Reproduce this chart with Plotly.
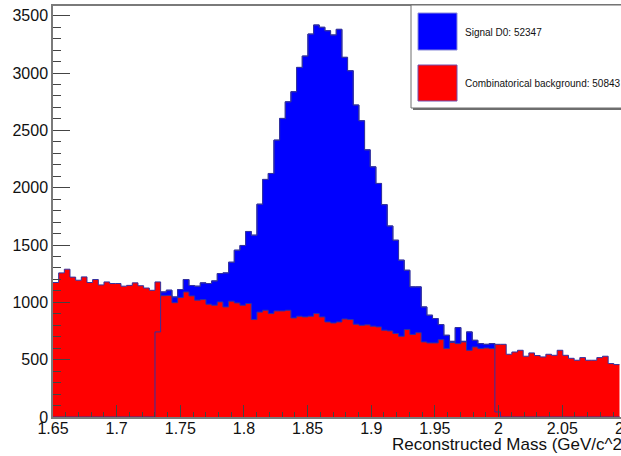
import plotly.graph_objects as go

# ---------------- data ----------------
x_low = 1.65
bin_width = 0.00445
n_bins = 100

background = [
    1173, 1257, 1289, 1220, 1193, 1222, 1173, 1199, 1152, 1178,
    1164, 1164, 1141, 1148, 1170, 1145, 1125, 1105, 1178, 1058,
    1060, 997, 1042, 1091, 1056, 1019, 1024, 984, 975, 1004,
    960, 1010, 995, 975, 990, 850, 915, 931, 902, 925,
    925, 931, 864, 879, 873, 879, 902, 873, 829, 820,
    829, 855, 850, 809, 800, 804, 792, 786, 757, 751,
    728, 704, 763, 720, 735, 655, 646, 646, 675, 597,
    650, 640, 655, 582, 611, 597, 602, 597, 634, 634,
    547, 567, 582, 530, 559, 536, 524, 547, 538, 582,
    538, 512, 495, 518, 495, 495, 518, 530, 466, 457,
]

total = [
    0, 0, 0, 0, 0, 0, 0, 0, 0, 0,
    0, 0, 0, 0, 0, 0, 0, 0, 742, 1091,
    1106, 1047, 1112, 1199, 1147, 1141, 1170, 1164, 1187, 1251,
    1257, 1350, 1455, 1496, 1618, 1586, 1856, 2072, 2124, 2415,
    2604, 2749, 2837, 3049, 3148, 3340, 3419, 3399, 3369, 3332,
    3381, 3137, 3020, 2721, 2584, 2330, 2182, 2037, 1852, 1666,
    1542, 1368, 1280, 1135, 1135, 960, 888, 859, 806, 713,
    660, 780, 660, 742, 669, 640, 634, 640, 44, 0,
    0, 0, 0, 0, 0, 0, 0, 0, 0, 0,
    0, 0, 0, 0, 0, 0, 0, 0, 0, 0,
]

legend_labels = ["Signal D0: 52347", "Combinatorical background: 50843"]
x_title = "Reconstructed Mass (GeV/c^2)"
last_tick_label = "2.1"

# ---------------- figure ----------------
W, H = 621, 456
ML, MT, MB = 53, 6, 39
plot_w = W - ML
plot_h = H - MT - MB
px_per_unit = 1273.0
x_max = x_low + plot_w / px_per_unit
y_max = 3584.6

edges = [x_low + i * bin_width for i in range(n_bins + 1)]
tx = edges
ty_total = total + [total[-1]]
ty_bg = background + [background[-1]]

BLUE = "#0000ff"
RED = "#ff0000"
OUT = "rgb(50,50,160)"
FONT = "Liberation Sans, Arial, sans-serif"

fig = go.Figure()
fig.add_trace(go.Scatter(x=tx, y=ty_total, mode="lines", line=dict(shape="hv", color=OUT, width=1),
                         fill="tozeroy", fillcolor=BLUE, hoverinfo="skip", showlegend=False))
fig.add_trace(go.Scatter(x=tx, y=ty_bg, mode="lines", line=dict(shape="hv", color=OUT, width=1),
                         fill="tozeroy", fillcolor=RED, hoverinfo="skip", showlegend=False))
fig.add_trace(go.Scatter(x=tx, y=ty_total, mode="lines", line=dict(shape="hv", color=OUT, width=1),
                         hoverinfo="skip", showlegend=False))

AX = "#7a7a7a"
fig.update_xaxes(range=[x_low, x_max], showgrid=False, zeroline=False,
                 showline=True, linecolor=AX, linewidth=1.5, mirror=True,
                 ticks="inside", ticklen=12, tickcolor="#444", tickwidth=1,
                 tick0=1.65, dtick=0.05, tickformat="~g", ticklabelstandoff=-4,
                 minor=dict(ticks="inside", ticklen=5, dtick=0.01, tick0=1.65, tickcolor="#444"),
                 tickfont=dict(family=FONT, size=16, color="#111"))
fig.update_yaxes(range=[0, y_max], showgrid=False, zeroline=False,
                 showline=True, linecolor=AX, linewidth=1.5, mirror=False,
                 ticks="inside", ticklen=17, tickcolor="#444", tickwidth=1,
                 tick0=0, dtick=500,
                 minor=dict(ticks="inside", ticklen=8, dtick=100, tickcolor="#444"),
                 tickfont=dict(family=FONT, size=16, color="#111"))

def px(xp):
    return (xp - ML) / plot_w

def py(yp):
    return (MT + plot_h - yp) / plot_h

x_end_px = ML + (2.1 - x_low) * px_per_unit

shapes = []
# legend box with shadow
shapes.append(dict(type="rect", xref="paper", yref="paper", x0=px(413), x1=px(660), y0=py(110), y1=py(7),
                   fillcolor="#6e6e6e", line=dict(width=0), layer="above"))
shapes.append(dict(type="rect", xref="paper", yref="paper", x0=px(411), x1=px(658), y0=py(108), y1=py(5),
                   fillcolor="white", line=dict(color="#6e6e6e", width=1), layer="above"))
shapes.append(dict(type="rect", xref="paper", yref="paper", x0=px(418), x1=px(457), y0=py(50), y1=py(13),
                   fillcolor=BLUE, line=dict(color="#8a8ad8", width=1), layer="above"))
shapes.append(dict(type="rect", xref="paper", yref="paper", x0=px(418), x1=px(457), y0=py(101), y1=py(65),
                   fillcolor=RED, line=dict(color="#7050b0", width=1), layer="above"))

annotations = [
    dict(xref="paper", yref="paper", x=px(463), y=py(32), text=legend_labels[0], showarrow=False,
         xanchor="left", yanchor="middle", font=dict(family=FONT, size=10, color="#111")),
    dict(xref="paper", yref="paper", x=px(463), y=py(83), text=legend_labels[1], showarrow=False,
         xanchor="left", yanchor="middle", font=dict(family=FONT, size=10, color="#111")),
    dict(xref="paper", yref="paper", x=px(x_end_px), y=py(428), text=last_tick_label, showarrow=False,
         xanchor="center", yanchor="middle", font=dict(family=FONT, size=16, color="#111")),
    dict(xref="paper", yref="paper", x=px(x_end_px + 4), y=py(444), text=x_title, showarrow=False,
         xanchor="right", yanchor="middle", font=dict(family=FONT, size=17, color="#111")),
]

fig.update_layout(width=W, height=H, margin=dict(l=ML, r=0, t=MT, b=MB, pad=0),
                  paper_bgcolor="white", plot_bgcolor="white",
                  shapes=shapes, annotations=annotations, showlegend=False)

fig.write_html("out.html", config={"displayModeBar": False})
